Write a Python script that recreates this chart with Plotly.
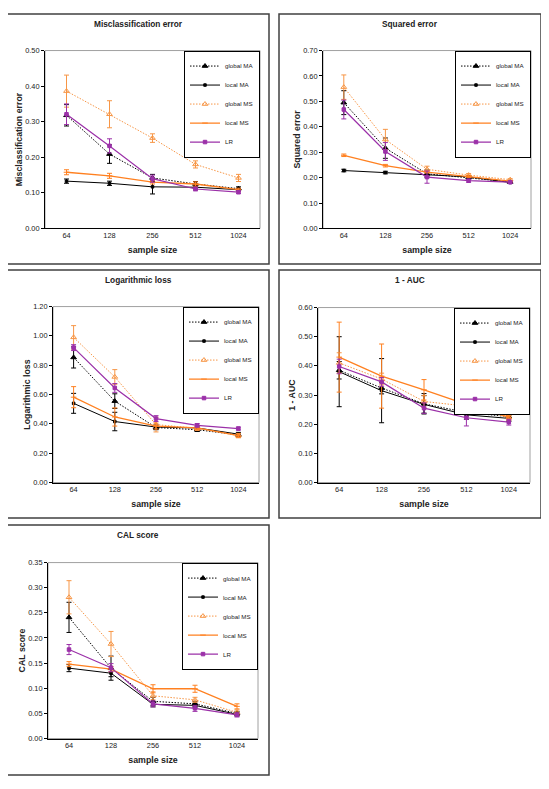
import plotly.graph_objects as go

sizes = ["64", "128", "256", "512", "1024"]
series_names = ["global MA", "local MA", "global MS", "local MS", "LR"]

# rows: global MA, local MA, global MS, local MS, LR
misclass_mean = [[0.318, 0.209, 0.142, 0.125, 0.112],
                 [0.133, 0.127, 0.117, 0.116, 0.109],
                 [0.386, 0.321, 0.254, 0.180, 0.142],
                 [0.158, 0.148, 0.130, 0.125, 0.109],
                 [0.321, 0.232, 0.140, 0.111, 0.102]]
misclass_err = [[0.030, 0.026, 0.010, 0.007, 0.005],
                [0.006, 0.006, 0.020, 0.005, 0.004],
                [0.045, 0.038, 0.012, 0.010, 0.010],
                [0.007, 0.007, 0.005, 0.006, 0.004],
                [0.029, 0.020, 0.010, 0.005, 0.004]]

squared_mean = [[0.495, 0.316, 0.215, 0.200, 0.183],
                [0.228, 0.220, 0.210, 0.203, 0.181],
                [0.556, 0.350, 0.233, 0.210, 0.192],
                [0.288, 0.247, 0.222, 0.205, 0.186],
                [0.468, 0.303, 0.202, 0.188, 0.182]]
squared_err = [[0.047, 0.040, 0.015, 0.005, 0.004],
               [0.005, 0.005, 0.004, 0.004, 0.003],
               [0.048, 0.040, 0.012, 0.006, 0.004],
               [0.005, 0.005, 0.004, 0.004, 0.003],
               [0.037, 0.035, 0.024, 0.006, 0.004]]

logloss_mean = [[0.853, 0.555, 0.375, 0.360, 0.325],
                [0.540, 0.416, 0.378, 0.372, 0.330],
                [0.990, 0.720, 0.395, 0.370, 0.320],
                [0.582, 0.447, 0.385, 0.372, 0.320],
                [0.920, 0.645, 0.436, 0.390, 0.368]]
logloss_err = [[0.072, 0.050, 0.015, 0.012, 0.012],
               [0.068, 0.063, 0.015, 0.012, 0.012],
               [0.080, 0.050, 0.050, 0.015, 0.015],
               [0.072, 0.062, 0.020, 0.012, 0.012],
               [0.020, 0.030, 0.020, 0.012, 0.010]]

auc_mean = [[0.385, 0.324, 0.270, 0.240, 0.226],
            [0.380, 0.315, 0.268, 0.232, 0.220],
            [0.410, 0.355, 0.278, 0.262, 0.222],
            [0.430, 0.365, 0.318, 0.268, 0.224],
            [0.398, 0.345, 0.255, 0.222, 0.207]]
auc_err = [[0.030, 0.020, 0.035, 0.012, 0.015],
           [0.120, 0.110, 0.030, 0.015, 0.010],
           [0.035, 0.020, 0.020, 0.008, 0.008],
           [0.120, 0.110, 0.035, 0.005, 0.005],
           [0.025, 0.015, 0.018, 0.028, 0.010]]

cal_mean = [[0.241, 0.140, 0.074, 0.069, 0.050],
            [0.140, 0.130, 0.068, 0.066, 0.048],
            [0.281, 0.188, 0.085, 0.077, 0.052],
            [0.148, 0.138, 0.099, 0.099, 0.064],
            [0.177, 0.141, 0.069, 0.060, 0.047]]
cal_err = [[0.030, 0.024, 0.008, 0.005, 0.004],
           [0.007, 0.007, 0.005, 0.004, 0.003],
           [0.033, 0.025, 0.008, 0.005, 0.005],
           [0.005, 0.005, 0.008, 0.007, 0.005],
           [0.010, 0.008, 0.006, 0.006, 0.004]]

# page body has an 8px default margin; figure fills the rest of the window
OFF = 8
W, H = 549 - OFF, 789 - OFF
FONT = "Arial, Liberation Sans, sans-serif"


def fx(px):
    return (px - OFF) / W


def fy(py):
    return 1 - (py - OFF) / H


styles = [
    dict(color="#000000", dash="1.5px,1.5px", symbol="triangle-up", msize=5, width=1),
    dict(color="#000000", dash="solid", symbol="square", msize=2.5, width=1),
    dict(color="#F79646", dash="1.5px,1.5px", symbol="triangle-up-open", msize=5, width=1),
    dict(color="#FF8020", dash="solid", symbol="line-ew", msize=4, width=1.3),
    dict(color="#9B30A8", dash="solid", symbol="square", msize=3.5, width=1.2),
]

panels = [
    dict(title="Misclassification error", mean=misclass_mean, err=misclass_err,
         ymax=0.5, dtick=0.1, plot=(45, 47, 260, 227), box=(7, 10, 269, 263)),
    dict(title="Squared error", mean=squared_mean, err=squared_err,
         ymax=0.7, dtick=0.1, plot=(323, 47, 531, 227), box=(279, 10, 541, 263)),
    dict(title="Logarithmic loss", mean=logloss_mean, err=logloss_err,
         ymax=1.2, dtick=0.2, plot=(53, 306, 259, 484), box=(7, 269, 269, 520)),
    dict(title="1 - AUC", mean=auc_mean, err=auc_err,
         ymax=0.6, dtick=0.1, plot=(318, 307, 530, 484), box=(279, 269, 541, 520)),
    dict(title="CAL score", mean=cal_mean, err=cal_err,
         ymax=0.35, dtick=0.05, plot=(48, 565, 258, 743), box=(7, 527, 269, 780)),
]

fig = go.Figure()
shapes = []
annotations = []

for i, p in enumerate(panels):
    k = "" if i == 0 else str(i + 1)
    x0, y0, x1, y1 = p["plot"]
    bx0, by0, bx1, by1 = p["box"]
    leg = "legend" + k
    for j, name in enumerate(series_names):
        s = styles[j]
        fig.add_trace(go.Scatter(
            x=sizes, y=p["mean"][j], name=name, mode="lines+markers",
            xaxis="x" + k, yaxis="y" + k, legend=leg,
            line=dict(color=s["color"], dash=s["dash"], width=s["width"]),
            marker=dict(symbol=s["symbol"], size=s["msize"], color=s["color"],
                        line=dict(color=s["color"], width=1)),
            error_y=dict(type="data", array=p["err"][j], symmetric=True,
                         color=s["color"], thickness=1, width=2.5),
        ))
    fig.layout["xaxis" + k] = dict(
        domain=[fx(x0), fx(x1)], anchor="y" + k, type="category", range=[-0.5, 4.5],
        showline=True, linecolor="#000000", linewidth=1, ticks="",
        showgrid=False, zeroline=False,
        tickfont=dict(family=FONT, size=7.4, color="#222222"),
        title=dict(text="<b>sample size</b>", standoff=7,
                   font=dict(family=FONT, size=8.8, color="#222222")),
    )
    fig.layout["yaxis" + k] = dict(
        domain=[fy(y1), fy(y0)], anchor="x" + k, range=[0, p["ymax"]], dtick=p["dtick"],
        tickformat=".2f", showline=True, linecolor="#000000", linewidth=1,
        ticks="outside", ticklen=3, tickcolor="#000000",
        showgrid=False, zeroline=False,
        tickfont=dict(family=FONT, size=7.4, color="#222222"),
        title=dict(text="<b>" + p["title"] + "</b>", standoff=1,
                   font=dict(family=FONT, size=8.8, color="#222222")),
    )
    fig.layout[leg] = dict(
        x=fx(x1), y=fy(y0), xanchor="right", yanchor="top",
        xref="paper", yref="paper",
        bgcolor="white", bordercolor="#000000", borderwidth=1,
        font=dict(family=FONT, size=6.2, color="#222222"),
        itemwidth=30, tracegroupgap=0,
    )
    # light plot-area frame
    shapes.append(dict(type="rect", xref="paper", yref="paper",
                       x0=fx(x0), x1=fx(x1), y0=fy(y1), y1=fy(y0),
                       line=dict(color="#A0A0A0", width=1), layer="below"))
    # outer panel border
    shapes.append(dict(type="rect", xref="paper", yref="paper",
                       x0=fx(bx0), x1=fx(bx1), y0=fy(by1), y1=fy(by0),
                       line=dict(color="#404040", width=1.5), layer="below"))
    annotations.append(dict(text="<b>" + p["title"] + "</b>", xref="paper", yref="paper",
                            x=fx((bx0 + bx1) / 2), y=fy(by0 + 10.5),
                            xanchor="center", yanchor="middle", showarrow=False,
                            font=dict(family=FONT, size=8.3, color="#222222")))

fig.update_layout(
    width=W, height=H, margin=dict(l=0, r=0, t=0, b=0),
    paper_bgcolor="white", plot_bgcolor="white",
    shapes=shapes, annotations=annotations, showlegend=True,
    font=dict(family=FONT),
)

fig.write_html("out.html")
